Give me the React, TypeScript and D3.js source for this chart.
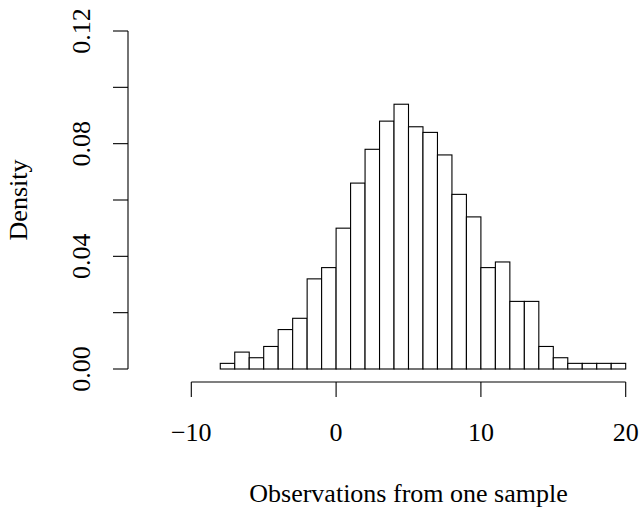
import React from "react";
import * as d3 from "d3";

const binStarts = [-8,-7,-6,-5,-4,-3,-2,-1,0,1,2,3,4,5,6,7,8,9,10,11,12,13,14,15,16,17,18,19];
const densities = [0.002,0.006,0.004,0.008,0.014,0.018,0.032,0.036,0.050,0.066,0.078,0.088,0.094,0.086,0.084,0.076,0.062,0.054,0.036,0.038,0.024,0.024,0.008,0.004,0.002,0.002,0.002,0.002];
const binWidth = 1;
const xTicks = [-10, 0, 10, 20];
const yTicks = [0, 0.02, 0.04, 0.06, 0.08, 0.10, 0.12];
const yLabelTicks = [0, 0.04, 0.08, 0.12];
const xTitle = "Observations from one sample";
const yTitle = "Density";

export default function App() {
  const W = 642, H = 509;
  const x = d3.scaleLinear().domain([-10, 20]).range([191.3, 625.7]);
  const y = d3.scaleLinear().domain([0, 0.12]).range([369, 31]);
  const font = "'Liberation Serif', 'Times New Roman', serif";
  const fs = 26;
  const axisY = 382;
  const axisX = 128;
  const tick = 15;
  const fmtX = (v: number) => (v < 0 ? "\u2212" + Math.abs(v) : String(v));
  return (
    <svg width={W} height={H} style={{ position: "absolute", left: 0, top: 0, background: "#fff" }} fontFamily={font}>
      <rect x={0} y={0} width={W} height={H} fill="#fff" />
      {binStarts.map((b, i) => (
        <rect key={i} x={x(b)} y={y(densities[i])} width={x(b + binWidth) - x(b)} height={y(0) - y(densities[i])}
          fill="#fff" stroke="#000" strokeWidth={1.1} />
      ))}
      <line x1={x(xTicks[0])} x2={x(xTicks[xTicks.length - 1])} y1={axisY} y2={axisY} stroke="#000" strokeWidth={1.1} />
      {xTicks.map((t) => (
        <g key={t}>
          <line x1={x(t)} x2={x(t)} y1={axisY} y2={axisY + tick} stroke="#000" strokeWidth={1.1} />
          <text x={x(t)} y={441} textAnchor="middle" fontSize={fs}>{fmtX(t)}</text>
        </g>
      ))}
      <line x1={axisX} x2={axisX} y1={y(0)} y2={y(0.12)} stroke="#000" strokeWidth={1.1} />
      {yTicks.map((t) => (
        <line key={t} x1={axisX - tick} x2={axisX} y1={y(t)} y2={y(t)} stroke="#000" strokeWidth={1.1} />
      ))}
      {yLabelTicks.map((t) => (
        <text key={t} transform={`translate(90,${y(t)}) rotate(-90)`} textAnchor="middle" fontSize={fs}>{t.toFixed(2)}</text>
      ))}
      <text x={(x(-10) + x(20)) / 2} y={502} textAnchor="middle" fontSize={fs}>{xTitle}</text>
      <text transform={`translate(27,${(y(0) + y(0.12)) / 2}) rotate(-90)`} textAnchor="middle" fontSize={fs}>{yTitle}</text>
    </svg>
  );
}
